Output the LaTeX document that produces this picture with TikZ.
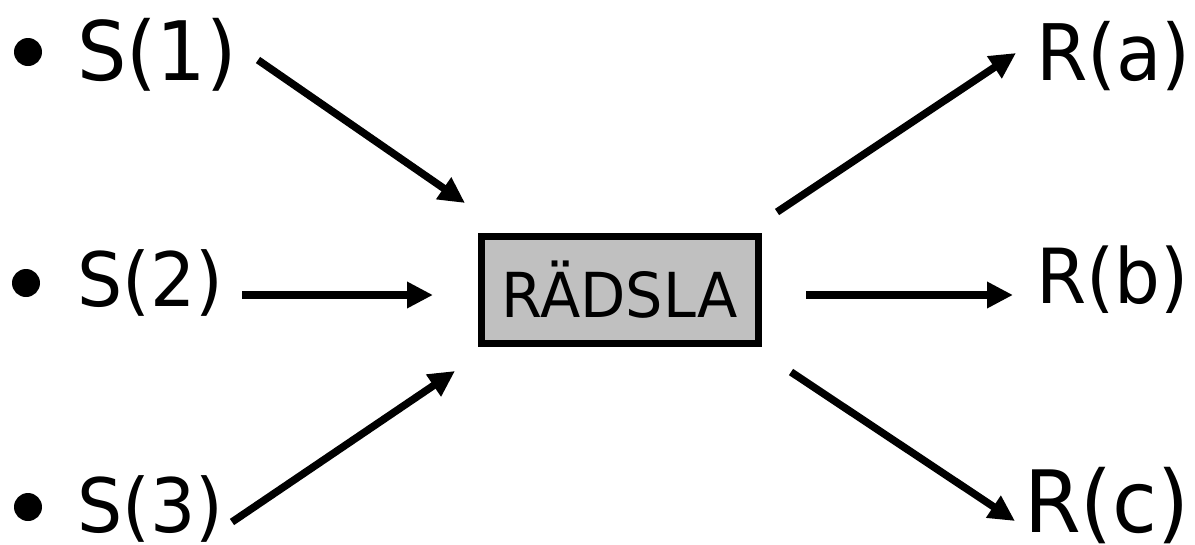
\documentclass[tikz,border=0pt]{standalone}
\usepackage{fontspec}
\setmainfont[FakeStretch=0.95]{DejaVu Sans}
\usetikzlibrary{arrows.meta}
\definecolor{boxgray}{RGB}{192,192,192}
\newcommand{\fsz}[1]{\fontsize{#1}{#1}\selectfont}
\tikzset{
  lbl/.style={inner sep=0pt, outer sep=0pt, anchor=base west},
  dot/.style={circle, fill=black, inner sep=0pt, minimum size=28pt},
  emotion/.style={draw=black, line width=7pt, fill=boxgray, inner sep=0pt,
    outer sep=0pt, minimum width=277pt, minimum height=107pt},
  arr/.style={line width=7.5pt, -{Triangle[length=26pt,width=25pt]}}
}
\begin{document}
\begin{tikzpicture}[x=1pt, y=-1pt]
\useasboundingbox (0,0) rectangle (1195,544);

% stimuli
\node[dot] (d1) at (28,52) {};
\node[dot] (d2) at (26,283) {};
\node[dot] (d3) at (28,507) {};
\node[lbl, font=\fsz{82}] (s1) at (77,80) {S(1)};
\node[lbl, font=\fsz{75}] (s2) at (77,306) {S(2)};
\node[lbl, font=\fsz{75}] (s3) at (77,532) {S(3)};

% emotion
\node[emotion, font=\fsz{62}] (box) at (619.5,289.5) {RÄDSLA};

% responses
\node[lbl, font=\fsz{78}] (ra) at (1036,80) {R(a)};
\node[lbl, font=\fsz{76}] (rb) at (1036,303) {R(b)};
\node[lbl, font=\fsz{86}] (rc) at (1024,532) {R(c)};

% stimulus -> emotion
\draw[arr] ([shift={(181,-20)}]s1.base west) -- ([shift={(-16,-33)}]box.north west);
\draw[arr] ([shift={(165,-11)}]s2.base west) -- ([shift={(-48,5.5)}]box.west);
\draw[arr] ([shift={(155,-10)}]s3.base west) -- ([shift={(-26,28)}]box.south west);

% emotion -> response
\draw[arr] ([shift={(19,-24)}]box.north east) -- ([shift={(-20,-27)}]ra.base west);
\draw[arr] ([shift={(48,5.5)}]box.east) -- ([shift={(-23,-8)}]rb.base west);
\draw[arr] ([shift={(33,29)}]box.south east) -- ([shift={(-9,-11)}]rc.base west);
\end{tikzpicture}
\end{document}
